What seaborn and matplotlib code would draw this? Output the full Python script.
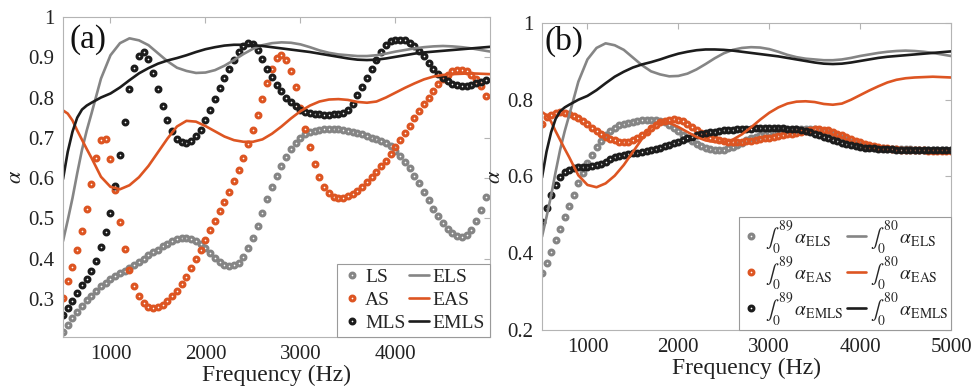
import numpy as np
import pandas as pd
import matplotlib
matplotlib.use("Agg")
import matplotlib.pyplot as plt
import seaborn as sns

sns.set_style("white")
plt.rcParams["font.family"] = ["Liberation Serif", "DejaVu Serif"]
plt.rcParams["mathtext.fontset"] = "stix"

# ---------------- data ----------------
# marker series, panel (a): 500..4950 Hz every 50 Hz
freq_a = np.arange(500, 4951, 50)
LS = [0.218, 0.235, 0.252, 0.268, 0.282, 0.296, 0.308, 0.320, 0.331, 0.340,
      0.348, 0.356, 0.363, 0.370, 0.377, 0.385, 0.392, 0.400, 0.408, 0.415,
      0.422, 0.430, 0.437, 0.444, 0.449, 0.452, 0.452, 0.449, 0.443, 0.435,
      0.425, 0.413, 0.401, 0.391, 0.385, 0.382, 0.383, 0.390, 0.403, 0.425,
      0.450, 0.480, 0.513, 0.548, 0.578, 0.605, 0.630, 0.652, 0.672, 0.688,
      0.700, 0.709, 0.715, 0.718, 0.720, 0.721, 0.722, 0.722, 0.722, 0.720,
      0.718, 0.715, 0.712, 0.709, 0.705, 0.700, 0.697, 0.692, 0.687, 0.680,
      0.668, 0.655, 0.640, 0.624, 0.606, 0.587, 0.566, 0.545, 0.524, 0.505,
      0.488, 0.474, 0.463, 0.456, 0.453, 0.458, 0.472, 0.492, 0.520, 0.552]
AS = [0.303, 0.343, 0.378, 0.420, 0.468, 0.524, 0.585, 0.650, 0.695, 0.697,
      0.647, 0.571, 0.490, 0.424, 0.372, 0.332, 0.306, 0.289, 0.279, 0.277,
      0.279, 0.285, 0.294, 0.306, 0.320, 0.337, 0.355, 0.376, 0.398, 0.420,
      0.445, 0.470, 0.494, 0.517, 0.540, 0.565, 0.592, 0.620, 0.650, 0.684,
      0.720, 0.757, 0.796, 0.836, 0.872, 0.897, 0.905, 0.893, 0.866, 0.826,
      0.775, 0.722, 0.677, 0.635, 0.603, 0.578, 0.562, 0.553, 0.551, 0.551,
      0.555, 0.560, 0.567, 0.578, 0.590, 0.603, 0.616, 0.629, 0.643, 0.660,
      0.677, 0.694, 0.712, 0.730, 0.748, 0.766, 0.784, 0.800, 0.817, 0.833,
      0.846, 0.857, 0.865, 0.869, 0.869, 0.865, 0.857, 0.845, 0.828, 0.803]
MLS = [0.260, 0.277, 0.295, 0.314, 0.333, 0.350, 0.370, 0.395, 0.428, 0.465,
       0.514, 0.579, 0.656, 0.739, 0.820, 0.873, 0.903, 0.912, 0.895, 0.860,
       0.822, 0.778, 0.745, 0.718, 0.698, 0.689, 0.687, 0.692, 0.705, 0.720,
       0.745, 0.770, 0.797, 0.824, 0.848, 0.870, 0.892, 0.912, 0.927, 0.935,
       0.933, 0.918, 0.895, 0.872, 0.850, 0.831, 0.815, 0.800, 0.788, 0.778,
       0.770, 0.765, 0.762, 0.760, 0.758, 0.757, 0.757, 0.758, 0.760, 0.762,
       0.768, 0.783, 0.805, 0.826, 0.848, 0.872, 0.893, 0.913, 0.930, 0.940,
       0.943, 0.944, 0.942, 0.936, 0.927, 0.915, 0.902, 0.886, 0.872, 0.858,
       0.848, 0.840, 0.834, 0.830, 0.829, 0.829, 0.831, 0.835, 0.839, 0.843]

# marker series, panel (b): 500..5000 Hz every 50 Hz
freq_b = np.arange(500, 5001, 50)
I89_ELS = [0.348, 0.374, 0.403, 0.434, 0.464, 0.494, 0.524, 0.553, 0.582, 0.610,
           0.635, 0.657, 0.676, 0.693, 0.707, 0.718, 0.727, 0.733, 0.737, 0.740,
           0.742, 0.744, 0.746, 0.747, 0.747, 0.747, 0.745, 0.741, 0.735, 0.727,
           0.718, 0.709, 0.700, 0.692, 0.685, 0.679, 0.674, 0.671, 0.669, 0.669,
           0.670, 0.673, 0.677, 0.682, 0.688, 0.694, 0.699, 0.704, 0.708, 0.711,
           0.714, 0.716, 0.718, 0.720, 0.721, 0.722, 0.723, 0.724, 0.724, 0.724,
           0.723, 0.721, 0.718, 0.714, 0.710, 0.705, 0.700, 0.695, 0.690, 0.686,
           0.682, 0.679, 0.677, 0.675, 0.674, 0.673, 0.672, 0.672, 0.671, 0.671,
           0.671, 0.671, 0.670, 0.670, 0.670, 0.670, 0.670, 0.670, 0.670, 0.670,
           0.670]
I89_EAS = [0.737, 0.754, 0.761, 0.765, 0.767, 0.766, 0.763, 0.758, 0.752, 0.744,
           0.736, 0.727, 0.719, 0.711, 0.704, 0.698, 0.694, 0.691, 0.690, 0.691,
           0.694, 0.700, 0.708, 0.717, 0.727, 0.735, 0.741, 0.745, 0.748, 0.749,
           0.748, 0.745, 0.738, 0.730, 0.722, 0.714, 0.707, 0.701, 0.697, 0.694,
           0.692, 0.691, 0.690, 0.690, 0.691, 0.692, 0.693, 0.695, 0.697, 0.699,
           0.701, 0.703, 0.706, 0.708, 0.710, 0.712, 0.714, 0.716, 0.719, 0.722,
           0.723, 0.723, 0.722, 0.720, 0.716, 0.712, 0.708, 0.703, 0.698, 0.693,
           0.689, 0.685, 0.682, 0.679, 0.677, 0.675, 0.673, 0.672, 0.671, 0.670,
           0.669, 0.669, 0.668, 0.668, 0.668, 0.667, 0.667, 0.667, 0.666, 0.666,
           0.666]
I89_EMLS = [0.482, 0.517, 0.552, 0.579, 0.598, 0.611, 0.618, 0.622, 0.624, 0.625,
            0.626, 0.627, 0.629, 0.633, 0.639, 0.645, 0.650, 0.654, 0.656, 0.658,
            0.660, 0.662, 0.664, 0.666, 0.669, 0.672, 0.675, 0.679, 0.683, 0.687,
            0.691, 0.695, 0.699, 0.703, 0.707, 0.710, 0.713, 0.715, 0.717, 0.719,
            0.720, 0.721, 0.722, 0.723, 0.724, 0.725, 0.725, 0.726, 0.726, 0.726,
            0.726, 0.726, 0.726, 0.726, 0.725, 0.724, 0.723, 0.721, 0.718, 0.715,
            0.712, 0.708, 0.704, 0.700, 0.696, 0.692, 0.688, 0.685, 0.682, 0.679,
            0.677, 0.675, 0.674, 0.673, 0.672, 0.671, 0.671, 0.671, 0.670, 0.670,
            0.670, 0.670, 0.670, 0.670, 0.670, 0.670, 0.670, 0.670, 0.670, 0.670,
            0.670]

# smooth line series (both panels)
freq_line = [500, 550, 600, 650, 700, 750, 800, 900, 1000, 1100, 1200, 1300,
             1400, 1500, 1600, 1700, 1800, 1900, 2000, 2100, 2200, 2300, 2400,
             2500, 2600, 2700, 2800, 2900, 3000, 3100, 3200, 3300, 3400, 3500,
             3600, 3700, 3800, 3900, 4000, 4100, 4200, 4300, 4400, 4500, 4600,
             4700, 4800, 4900, 5000]
ELS = [0.443, 0.495, 0.550, 0.612, 0.670, 0.718, 0.760, 0.847, 0.905, 0.935,
       0.947, 0.942, 0.930, 0.910, 0.890, 0.874, 0.866, 0.861, 0.862, 0.868,
       0.879, 0.893, 0.908, 0.921, 0.930, 0.935, 0.937, 0.936, 0.932, 0.925,
       0.917, 0.911, 0.907, 0.905, 0.903, 0.903, 0.905, 0.909, 0.914, 0.918,
       0.922, 0.925, 0.927, 0.928, 0.927, 0.925, 0.922, 0.918, 0.914]
EAS = [0.768, 0.760, 0.743, 0.718, 0.695, 0.672, 0.650, 0.603, 0.578, 0.572,
       0.582, 0.602, 0.630, 0.664, 0.698, 0.728, 0.742, 0.740, 0.729, 0.716,
       0.703, 0.694, 0.690, 0.690, 0.696, 0.710, 0.728, 0.748, 0.766, 0.780,
       0.790, 0.795, 0.796, 0.794, 0.789, 0.787, 0.790, 0.800, 0.812, 0.824,
       0.835, 0.845, 0.852, 0.856, 0.858, 0.859, 0.860, 0.859, 0.858]
EMLS = [0.597, 0.665, 0.715, 0.750, 0.770, 0.780, 0.787, 0.800, 0.810, 0.825,
        0.843, 0.860, 0.873, 0.884, 0.892, 0.898, 0.905, 0.913, 0.920, 0.925,
        0.929, 0.931, 0.931, 0.930, 0.928, 0.925, 0.922, 0.919, 0.916, 0.913,
        0.909, 0.905, 0.901, 0.897, 0.894, 0.893, 0.894, 0.897, 0.901, 0.905,
        0.909, 0.912, 0.914, 0.916, 0.918, 0.920, 0.922, 0.924, 0.926]

labels_a = ["LS", "AS", "MLS", "ELS", "EAS", "EMLS"]
labels_b = [r"$\int_0^{89}\,\alpha_{\mathrm{ELS}}$", r"$\int_0^{89}\,\alpha_{\mathrm{EAS}}$",
            r"$\int_0^{89}\,\alpha_{\mathrm{EMLS}}$", r"$\int_0^{80}\,\alpha_{\mathrm{ELS}}$",
            r"$\int_0^{80}\,\alpha_{\mathrm{EAS}}$", r"$\int_0^{80}\,\alpha_{\mathrm{EMLS}}$"]

GRAY = "#858585"
ORANGE = "#DD5522"
BLACK = "#1c1c1c"
colors = [GRAY, ORANGE, BLACK]

fig = plt.figure(figsize=(9.72, 3.89), dpi=100)
ax_a = fig.add_axes([0.0648, 0.1337, 0.4393, 0.8226])
ax_b = fig.add_axes([0.5576, 0.1517, 0.4208, 0.7892])


def draw(ax, fx, marker_series, line_series, labels):
    for ys, c, lab in zip(marker_series, colors, labels[:3]):
        sns.lineplot(x=fx, y=ys, ax=ax, color=c, linestyle="none", marker="o",
                     markersize=3.5, markerfacecolor="none", markeredgecolor=c,
                     markeredgewidth=2.2, errorbar=None, sort=False, label=lab)
    for ys, c, lab in zip(line_series, colors, labels[3:]):
        sns.lineplot(x=freq_line, y=ys, ax=ax, color=c, linewidth=1.9,
                     errorbar=None, sort=False, label=lab)


draw(ax_a, freq_a, [LS, AS, MLS], [ELS, EAS, EMLS], labels_a)
draw(ax_b, freq_b, [I89_ELS, I89_EAS, I89_EMLS], [ELS, EAS, EMLS], labels_b)

for ax in (ax_a, ax_b):
    for s in ax.spines.values():
        s.set_color("#b4b4b4")
        s.set_linewidth(0.8)
    ax.tick_params(direction="in", length=4, width=0.8, color="#b4b4b4",
                   top=True, right=True, labelsize=15, labelcolor="#222222", pad=6)
    ax.set_xlabel("Frequency (Hz)", fontsize=17, labelpad=0, color="#222222")
    ax.set_ylabel(r"$\alpha$", fontsize=16, labelpad=2, color="#222222")

ax_a.set_xlim(500, 4995)
ax_a.set_ylim(0.205, 1.0)
ax_a.set_xticks([1000, 2000, 3000, 4000])
ax_a.set_yticks([0.3, 0.4, 0.5, 0.6, 0.7, 0.8, 0.9, 1.0])
ax_a.set_yticklabels(["0.3", "0.4", "0.5", "0.6", "0.7", "0.8", "0.9", "1"])

ax_b.set_xlim(500, 5000)
ax_b.set_ylim(0.2, 1.0)
ax_b.set_xticks([1000, 2000, 3000, 4000, 5000])
ax_b.set_yticks([0.2, 0.4, 0.6, 0.8, 1.0])
ax_b.set_yticklabels(["0.2", "0.4", "0.6", "0.8", "1"])

ax_a.text(0.015, 0.93, "(a)", transform=ax_a.transAxes, fontsize=24,
          va="center", ha="left", color="#111111")
ax_b.text(0.005, 0.94, "(b)", transform=ax_b.transAxes, fontsize=24,
          va="center", ha="left", color="#111111")

for ax, fs, ls, bp in ((ax_a, 14, 0.28, 0.25), (ax_b, 14, -0.05, 0.12)):
    h, l = ax.get_legend_handles_labels()
    leg = ax.legend(h, l, ncol=2, loc="lower right", bbox_to_anchor=(1.0, 0.0),
                    borderaxespad=0.0, fontsize=fs, labelspacing=ls,
                    handlelength=1.0, handletextpad=0.2, columnspacing=0.2,
                    borderpad=bp, fancybox=False, framealpha=1.0,
                    edgecolor="#9a9a9a")
    leg.get_frame().set_linewidth(0.8)

fig.savefig("out.png", dpi=100)
